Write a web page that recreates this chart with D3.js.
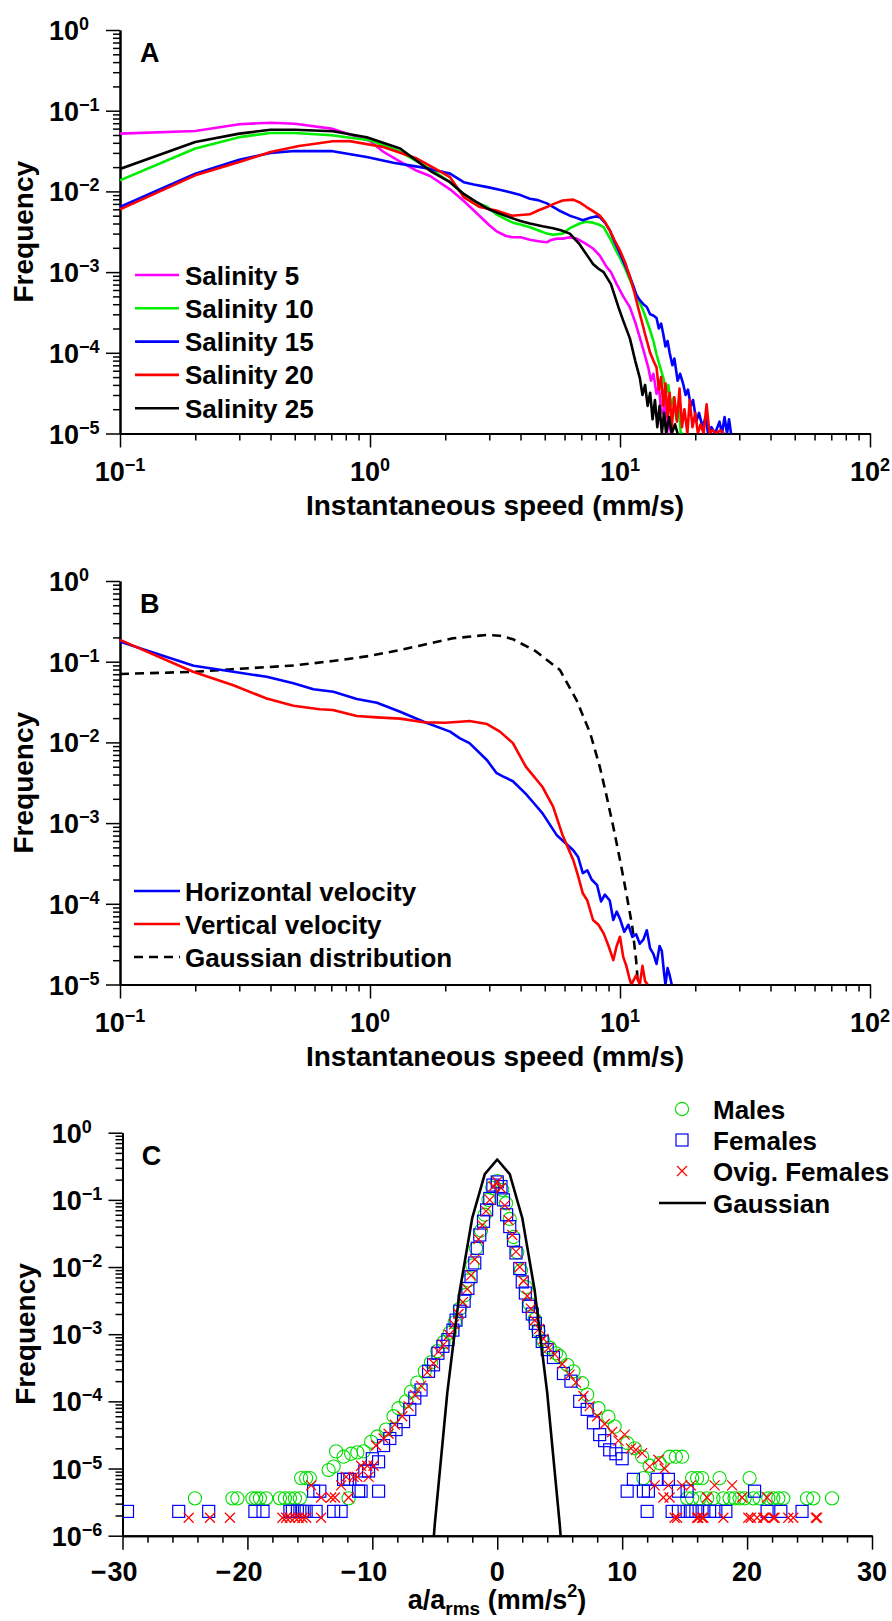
<!DOCTYPE html>
<html>
<head>
<meta charset="utf-8">
<script src="https://cdn.jsdelivr.net/npm/d3@7"></script>
<style>
body { margin: 0; background: #fff; }
svg text { font-family: "Liberation Sans", Arial, Helvetica, sans-serif; font-weight: bold; fill: #000; }
</style>
</head>
<body>
<svg id="chart" width="892" height="1621"></svg>
<script>
// ---- panel A: speed PDFs per salinity, [speed mm/s, frequency]
const salinityNames = ["Salinity 5", "Salinity 10", "Salinity 15", "Salinity 20", "Salinity 25"];
const salinityColors = ["#ff00ff", "#00ee00", "#0000ff", "#ff0000", "#000000"];

const sal5 = [[0.1,0.052],[0.2,0.056],[0.3,0.068],[0.4,0.071],[0.5,0.069],[0.7,0.060],[1.0,0.042],[1.13,0.031],[1.3,0.024],[1.54,0.018],[1.74,0.0155],[2.09,0.0106],[2.36,0.0077],[2.7,0.0052],[3.0,0.0038],[3.21,0.0032],[3.5,0.0028],[3.73,0.0027],[4.0,0.0027],[4.4,0.0025],[4.8,0.0024],[5.09,0.00234],[5.3,0.0025],[5.6,0.0026],[5.92,0.0026],[6.3,0.0027],[6.71,0.0026],[7.2,0.0023],[7.8,0.00196],[8.3,0.0016],[8.85,0.00115],[9.2,0.0010],[9.7,0.00071],[10.3,0.0005],[10.96,0.000366],[11.5,0.00024],[12.0,0.000155],[12.5,0.0001],[12.97,6.6e-5],[13.3,4.5e-5],[13.6,5.5e-5],[14.0,3.1e-5],[14.3,3.8e-5],[14.6,2.0e-5],[14.9,1.74e-5],[15.1,2.5e-5],[15.4,1.0e-5],[15.7,1.5e-5],[16.0,1.0e-5]];
const sal10 = [[0.1,0.0137],[0.2,0.034],[0.3,0.047],[0.4,0.053],[0.5,0.053],[0.7,0.0496],[1.0,0.043],[1.32,0.031],[1.74,0.019],[2.09,0.013],[2.37,0.0093],[2.6,0.0075],[2.95,0.0064],[3.2,0.0052],[3.5,0.0045],[3.73,0.0041],[4.0,0.0039],[4.36,0.0036],[4.7,0.0033],[5.1,0.003],[5.4,0.0029],[5.9,0.003],[6.3,0.0035],[6.9,0.004],[7.3,0.0042],[7.8,0.0041],[8.2,0.0039],[8.6,0.0036],[9.2,0.0025],[9.6,0.0019],[10.0,0.0015],[10.5,0.0011],[10.96,0.0008],[11.6,0.00053],[12.4,0.00033],[13.2,0.00019],[13.6,0.00014],[14.0,9.6e-5],[14.4,7e-5],[14.9,4.9e-5],[15.3,3.2e-5],[15.6,4e-5],[16.0,2.2e-5],[16.4,2.8e-5],[16.8,1.5e-5],[17.2,2.0e-5],[17.5,1.0e-5],[17.9,1.0e-5]];
const sal15 = [[0.1,0.0064],[0.2,0.0166],[0.3,0.0247],[0.4,0.030],[0.5,0.0316],[0.7,0.0316],[0.97,0.0267],[1.24,0.0227],[1.59,0.020],[1.74,0.019],[2.09,0.0166],[2.37,0.013],[2.6,0.0122],[2.95,0.0113],[3.3,0.0105],[3.6,0.0098],[4.0,0.009],[4.36,0.0081],[4.7,0.0078],[5.1,0.0071],[5.7,0.0058],[6.3,0.005],[6.7,0.0047],[7.1,0.0044],[7.6,0.0047],[8.0,0.0049],[8.3,0.0048],[8.7,0.0041],[9.1,0.0033],[9.5,0.0024],[10.0,0.0017],[10.5,0.0012],[10.96,0.00087],[11.3,0.00068],[11.6,0.00053],[12.0,0.00045],[12.4,0.0004],[12.8,0.00037],[13.2,0.0003],[13.6,0.00029],[14.0,0.00027],[14.3,0.0002],[14.6,0.00023],[14.9,0.00017],[15.2,0.00012],[15.5,0.00014],[15.8,0.0001],[16.2,7e-5],[16.5,8.5e-5],[16.7,6.6e-5],[17.0,4.5e-5],[17.4,5.5e-5],[17.9,4.1e-5],[18.3,3e-5],[18.7,3.5e-5],[19.2,2.2e-5],[19.6,2.6e-5],[20.2,1.4e-5],[20.7,1.8e-5],[21.4,1.2e-5],[22.0,1.6e-5],[22.5,1.0e-5],[23.2,1.2e-5],[24.0,1.0e-5],[25.0,1.4e-5],[25.6,1.0e-5],[26.2,1.6e-5],[26.8,1.0e-5],[27.3,1.5e-5],[27.8,1.0e-5]];
const sal20 = [[0.1,0.006],[0.2,0.0158],[0.3,0.0231],[0.4,0.0307],[0.52,0.0365],[0.71,0.0418],[0.83,0.042],[1.13,0.0355],[1.54,0.0255],[1.74,0.0207],[2.09,0.015],[2.37,0.0085],[2.75,0.0064],[3.2,0.0058],[3.7,0.005],[4.0,0.0051],[4.36,0.0052],[4.7,0.0058],[5.1,0.0064],[5.5,0.0071],[5.9,0.0077],[6.5,0.0079],[6.9,0.0073],[7.35,0.0064],[7.8,0.0057],[8.3,0.005],[8.7,0.0042],[9.1,0.0033],[9.5,0.0025],[10.0,0.00185],[10.5,0.0013],[10.96,0.00087],[11.4,0.00057],[11.8,0.00037],[12.2,0.00025],[12.6,0.00017],[13.2,0.0001],[13.6,8e-5],[14.0,6.6e-5],[14.3,3.5e-5],[14.6,5e-5],[14.9,2.2e-5],[15.2,4.2e-5],[15.5,1.6e-5],[15.8,3.2e-5],[16.1,1.2e-5],[16.5,2.8e-5],[16.9,1.4e-5],[17.3,3.6e-5],[17.7,1.2e-5],[18.1,2.0e-5],[18.6,1.0e-5],[19.0,2.6e-5],[19.5,1.2e-5],[20.0,1.8e-5],[20.5,1.0e-5],[21.0,1.3e-5],[21.6,1.0e-5],[22.2,2.3e-5],[22.8,1.0e-5],[23.5,1.1e-5],[24.3,1.0e-5],[25.2,1.1e-5],[26.0,1.0e-5]];
const sal25 = [[0.1,0.019],[0.2,0.041],[0.3,0.052],[0.4,0.058],[0.5,0.058],[0.71,0.0556],[0.97,0.047],[1.32,0.034],[1.74,0.018],[2.09,0.013],[2.37,0.0093],[2.65,0.0075],[2.95,0.0061],[3.3,0.0053],[3.6,0.0048],[4.0,0.0043],[4.36,0.004],[4.9,0.0037],[5.4,0.0035],[5.8,0.0033],[6.3,0.003],[6.9,0.0022],[7.4,0.0016],[7.8,0.00126],[8.2,0.0011],[8.6,0.001],[9.2,0.00071],[9.85,0.00037],[10.3,0.00025],[10.96,0.00015],[11.5,8e-5],[12.0,4.9e-5],[12.3,3.0e-5],[12.6,4e-5],[12.9,2.2e-5],[13.2,3.2e-5],[13.5,1.5e-5],[13.8,2.6e-5],[14.1,1.2e-5],[14.4,2.2e-5],[14.7,1.0e-5],[15.0,1.8e-5],[15.3,1.0e-5],[15.7,1.6e-5],[16.1,1.0e-5],[16.6,1.3e-5],[17.0,1.0e-5]];
const salinitySeries = [sal5, sal10, sal15, sal20, sal25];

// ---- panel B: horizontal / vertical velocity PDFs + gaussian reference
const horizVel = [[0.1,0.177],[0.197,0.089],[0.284,0.075],[0.386,0.065],[0.494,0.054],[0.594,0.0455],[0.714,0.0425],[0.886,0.0345],[1.066,0.031],[1.32,0.024],[1.64,0.018],[2.09,0.0136],[2.29,0.0112],[2.5,0.0098],[2.94,0.006],[3.2,0.0042],[3.4,0.0038],[3.73,0.0033],[4.2,0.0023],[4.5,0.0018],[4.9,0.00132],[5.6,0.0007],[6.0,0.00058],[6.5,0.00046],[6.8,0.00038],[7.1,0.00024],[7.4,0.00026],[7.7,0.0002],[8.1,0.00017],[8.4,0.000107],[8.7,0.00013],[9.1,0.00011],[9.4,6.3e-5],[9.7,8e-5],[10.0,6.5e-5],[10.4,4.5e-5],[10.8,5.5e-5],[11.2,3.9e-5],[11.6,4.2e-5],[12.0,3.2e-5],[12.4,3.6e-5],[12.8,4.7e-5],[13.2,2.8e-5],[13.6,2.4e-5],[14.0,1.8e-5],[14.4,3.0e-5],[14.7,2.6e-5],[15.0,1.4e-5],[15.2,1.0e-5],[15.5,1.6e-5],[15.8,1.3e-5],[16.1,1.0e-5]];
const vertVel = [[0.1,0.186],[0.196,0.075],[0.284,0.051],[0.386,0.035],[0.494,0.0285],[0.63,0.0257],[0.71,0.0252],[0.886,0.0212],[1.066,0.0204],[1.32,0.0197],[1.64,0.0178],[2.0,0.0175],[2.29,0.018],[2.5,0.0184],[2.94,0.0169],[3.31,0.0136],[3.73,0.0098],[4.2,0.005],[4.9,0.0028],[5.4,0.0016],[5.9,0.0007],[6.5,0.00035],[6.8,0.00022],[7.1,0.000135],[7.4,0.00011],[7.8,6.3e-5],[8.2,5.5e-5],[8.6,4.3e-5],[9.0,3e-5],[9.4,2e-5],[9.7,3e-5],[10.0,3.9e-5],[10.3,2.2e-5],[10.6,1.7e-5],[10.9,1.2e-5],[11.1,1.0e-5],[11.6,1.3e-5],[12.0,1.0e-5],[12.3,1.7e-5],[12.6,1.1e-5],[12.9,1.0e-5]];
const gaussSpeed = [[0.1,0.0704],[0.2,0.075],[0.28,0.0805],[0.5,0.09],[0.71,0.102],[1.0,0.118],[1.32,0.14],[1.58,0.158],[2.15,0.195],[2.94,0.215],[3.3,0.21],[3.73,0.19],[4.6,0.135],[5.75,0.079],[6.7,0.0335],[7.6,0.013],[8.3,0.005],[8.8,0.0023],[9.4,0.0009],[10.0,0.00035],[10.6,0.000135],[11.2,5.2e-5],[11.6,2e-5],[11.8,1e-5]];
const velNames = ["Horizontal velocity", "Vertical velocity", "Gaussian distribution"];

// ---- panel C: acceleration PDFs, [a/a_rms, frequency]
const males = [[0.0,0.19],[-0.4,0.151],[0.4,0.141],[-0.7,0.10],[0.7,0.089],[-1.0,0.060],[1.0,0.052],[-1.3,0.035],[1.3,0.028],[-1.7,0.019],[1.6,0.0166],[-2.0,0.0105],[1.9,0.0089],[-2.3,0.0063],[2.3,0.005],[-2.6,0.0038],[2.6,0.0028],[-3.0,0.0024],[3.0,0.00166],[-3.4,0.0015],[3.3,0.00112],[-3.8,0.00105],[3.7,0.00079],[-4.3,0.00076],[4.2,0.00063],[-4.8,0.00056],[4.7,0.00052],[-5.3,0.00038],[5.0,0.00047],[-5.8,0.00028],[5.6,0.00035],[-6.4,0.00019],[6.1,0.00028],[-6.9,0.00014],[6.8,0.000186],[-7.3,0.0001],[7.2,0.000126],[-7.9,7.9e-5],[8.1,7.9e-5],[-8.3,6.0e-5],[8.9,5.9e-5],[-8.9,3.8e-5],[9.4,4.2e-5],[-9.6,3.0e-5],[10.4,2.4e-5],[-10.1,2.5e-5],[11.0,2.0e-5],[-10.7,1.8e-5],[11.6,1.5e-5],[-11.2,1.74e-5],[12.2,1.1e-5],[-11.7,1.66e-5],[13.0,1.2e-5],[-12.3,1.5e-5],[13.8,1.5e-5],[-12.9,1.8e-5],[14.3,1.5e-5],[-13.1,1.07e-5],[14.8,1.5e-5],[-13.5,9.5e-6],
  [-15.0,7.2e-6],[-15.3,7.2e-6],[-15.7,7.2e-6],[11.7,7.2e-6],[15.6,7.2e-6],[16.0,7.2e-6],[16.4,7.2e-6],[17.8,7.2e-6],[20.2,7.2e-6],
  [-24.2,3.6e-6],[-21.2,3.6e-6],[-20.8,3.6e-6],[-19.6,3.6e-6],[-19.3,3.6e-6],[-19.0,3.6e-6],[-18.5,3.6e-6],[-17.4,3.6e-6],[-17.0,3.6e-6],[-16.6,3.6e-6],[-16.2,3.6e-6],[-15.8,3.6e-6],[-11.9,3.6e-6],
  [15.2,3.6e-6],[15.6,3.6e-6],[16.2,3.6e-6],[16.8,3.6e-6],[17.3,3.6e-6],[18.1,3.6e-6],[18.6,3.6e-6],[19.0,3.6e-6],[19.4,3.6e-6],[19.8,3.6e-6],[20.5,3.6e-6],[21.0,3.6e-6],[21.7,3.6e-6],[22.1,3.6e-6],[22.5,3.6e-6],[22.9,3.6e-6],[24.8,3.6e-6],[25.3,3.6e-6],[26.8,3.6e-6]];
const females = [[0.0,0.185],[-0.35,0.166],[0.3,0.158],[-0.6,0.105],[0.5,0.1],[-0.85,0.071],[0.75,0.06],[-1.1,0.048],[1.0,0.04],[-1.4,0.03],[1.3,0.025],[-1.6,0.019],[1.5,0.0162],[-1.8,0.0115],[1.8,0.0095],[-2.1,0.0072],[2.0,0.006],[-2.35,0.0048],[2.25,0.0041],[-2.65,0.0031],[2.5,0.0026],[-3.0,0.0022],[2.8,0.002],[-3.3,0.00162],[3.05,0.00145],[-3.55,0.00115],[3.3,0.0011],[-3.95,0.00083],[3.6,0.00078],[-4.35,0.00066],[4.0,0.00059],[-4.75,0.00052],[4.5,0.00045],[-5.1,0.00035],[5.3,0.00026],[-5.5,0.00028],[5.9,0.0002],[-6.1,0.000148],[6.6,0.0001],[-6.6,0.000112],[7.2,7.6e-5],[-7.0,7.6e-5],[7.7,4.8e-5],[-7.5,5.0e-5],[8.2,3.2e-5],[-8.1,3.8e-5],[8.6,2.6e-5],[-8.6,2.8e-5],[9.0,1.9e-5],[-9.1,2.2e-5],[9.5,1.66e-5],[-9.5,1.26e-5],[10.0,1.4e-5],[-10.0,1.4e-5],[-10.3,9.2e-6],[-10.6,9.2e-6],
  [-12.3,6.9e-6],[-11.8,6.9e-6],[-12.0,6.9e-6],[10.9,6.9e-6],[12.8,6.9e-6],[13.7,6.9e-6],
  [-14.7,4.6e-6],[-14.2,4.6e-6],[-11.1,4.6e-6],[-10.9,4.6e-6],[-9.5,4.6e-6],[10.4,4.6e-6],[11.7,4.6e-6],[12.1,4.6e-6],[14.5,4.6e-6],[15.2,4.6e-6],[20.6,4.6e-6],
  [-29.6,2.3e-6],[-25.5,2.3e-6],[-23.1,2.3e-6],[-19.4,2.3e-6],[-18.75,2.3e-6],[-16.6,2.3e-6],[-16.4,2.3e-6],[-16.0,2.3e-6],[-15.8,2.3e-6],[-15.6,2.3e-6],[-15.3,2.3e-6],[-14.5,2.3e-6],[-13.1,2.3e-6],[-12.5,2.3e-6],
  [12.0,2.3e-6],[14.0,2.3e-6],[14.5,2.3e-6],[15.2,2.3e-6],[15.6,2.3e-6],[15.9,2.3e-6],[16.4,2.3e-6],[17.0,2.3e-6],[17.5,2.3e-6],[18.3,2.3e-6],[21.6,2.3e-6],[22.7,2.3e-6],[24.4,2.3e-6]];
const ovigFemales = [[0.0,0.186],[-0.3,0.158],[0.3,0.150],[-0.6,0.1],[0.6,0.083],[-0.9,0.068],[0.9,0.05],[-1.2,0.042],[1.2,0.03],[-1.5,0.026],[1.5,0.017],[-1.8,0.013],[1.8,0.01],[-2.1,0.0075],[2.1,0.0062],[-2.4,0.0047],[2.4,0.0037],[-2.75,0.003],[2.7,0.0024],[-3.1,0.002],[3.0,0.0016],[-3.45,0.0014],[3.35,0.0012],[-3.85,0.00098],[3.7,0.00085],[-4.3,0.0007],[4.1,0.00062],[-4.7,0.00055],[4.6,0.0005],[-5.1,0.00037],[5.2,0.00036],[-5.6,0.00027],[5.8,0.00025],[-6.1,0.00017],[6.3,0.00019],[-6.6,0.000125],[6.9,0.00012],[-7.1,8.5e-5],[7.4,8.5e-5],[-7.6,6e-5],[8.0,6e-5],[-8.2,4.5e-5],[8.6,4.6e-5],[-8.7,3.3e-5],[9.2,3.5e-5],[-9.1,2.8e-5],[9.7,2.6e-5],[-9.7,2.2e-5],[10.2,3.2e-5],[10.7,2.0e-5],[11.1,1.9e-5],[11.6,1.7e-5],[12.2,1.07e-5],[12.9,1.35e-5],[13.4,1.0e-5],
  [-9.9,1.1e-5],[-10.4,1.1e-5],[-10.9,1.1e-5],[-10.3,7.5e-6],[-11.2,7.5e-6],[-11.5,7.5e-6],[-12.1,7.5e-6],
  [-12.5,5.6e-6],[-14.9,5.6e-6],[12.6,5.6e-6],[13.7,5.6e-6],[14.8,5.6e-6],[15.5,5.6e-6],[17.4,5.6e-6],[18.8,5.6e-6],
  [-14.1,3.7e-6],[-13.3,3.7e-6],[-13.0,3.7e-6],[-11.9,3.7e-6],[13.3,3.7e-6],[13.8,3.7e-6],[16.8,3.7e-6],[19.6,3.7e-6],[21.6,3.7e-6],
  [-24.7,1.85e-6],[-23.0,1.85e-6],[-21.4,1.85e-6],[-17.2,1.85e-6],[-16.9,1.85e-6],[-16.6,1.85e-6],[-16.2,1.85e-6],[-15.9,1.85e-6],[-15.6,1.85e-6],[-15.3,1.85e-6],[-14.1,1.85e-6],
  [14.2,1.85e-6],[14.4,1.85e-6],[16.0,1.85e-6],[16.1,1.85e-6],[16.4,1.85e-6],[16.5,1.85e-6],[18.1,1.85e-6],[20.1,1.85e-6],[20.3,1.85e-6],[20.8,1.85e-6],[21.3,1.85e-6],[21.4,1.85e-6],[22.1,1.85e-6],[22.2,1.85e-6],[23.3,1.85e-6],[23.7,1.85e-6],[25.5,1.85e-6],[25.6,1.85e-6]];
const gaussAcc = [[-6,6.08e-9],[-5,1.49e-6],[-4,1.34e-4],[-3,4.43e-3],[-2,5.40e-2],[-1,0.242],[0,0.399],[1,0.242],[2,5.40e-2],[3,4.43e-3],[4,1.34e-4],[5,1.49e-6],[6,6.08e-9]];
const accNames = ["Males", "Females", "Ovig. Females", "Gaussian"];
const accTicks = [-30, -20, -10, 0, 10, 20, 30];

const svg = d3.select("#chart");

function decadeTicks(lo, hi) {
    const major = [], minor = [];
    for (let e = lo; e <= hi; e++) {
        major.push(Math.pow(10, e));
        if (e < hi) for (let k = 2; k <= 9; k++) minor.push(k * Math.pow(10, e));
    }
    return {major, minor};
}

function styleAxis(g) {
    g.select(".domain").attr("stroke", "#000").attr("stroke-width", 2);
    g.selectAll(".tick line").attr("stroke", "#000").attr("stroke-width", 1.5);
    g.selectAll(".tick text").remove();
}

function powLabel(g, x, y, exp, anchor) {
    const t = g.append("text").attr("x", x).attr("y", y)
        .attr("text-anchor", anchor).attr("font-size", 27);
    t.append("tspan").text("10");
    t.append("tspan").attr("font-size", 18).attr("dy", -10)
        .text(exp < 0 ? "\u2212" + (-exp) : String(exp));
}

function yLogAxis(g, y, x0, lo, labelX) {
    const t = decadeTicks(lo, 0);
    g.append("g").attr("transform", `translate(${x0},0)`)
        .call(d3.axisLeft(y).tickValues(t.minor).tickSize(7).tickSizeOuter(0)).call(styleAxis);
    g.append("g").attr("transform", `translate(${x0},0)`)
        .call(d3.axisLeft(y).tickValues(t.major).tickSize(14).tickSizeOuter(0)).call(styleAxis);
    t.major.forEach(v => powLabel(g, labelX, y(v) + 10, Math.round(Math.log10(v)), "start"));
}

function yTitle(g, x, cy) {
    g.append("text").attr("transform", `translate(${x},${cy}) rotate(-90)`)
        .attr("text-anchor", "middle").attr("font-size", 28).text("Frequency");
}

function clipRect(id, x, y) {
    svg.append("clipPath").attr("id", id).append("rect")
        .attr("x", x.range()[0]).attr("y", y.range()[1])
        .attr("width", x.range()[1] - x.range()[0])
        .attr("height", y.range()[0] - y.range()[1]);
}

// ---------- speed panels (A, B) ----------
function speedPanel(top, letter) {
    const x = d3.scaleLog().domain([0.1, 100]).range([120, 870]);
    const y = d3.scaleLog().domain([1e-5, 1]).range([top + 403.5, top]);
    const g = svg.append("g");
    const bottom = y.range()[0];
    const t = decadeTicks(-1, 2);
    g.append("g").attr("transform", `translate(0,${bottom})`)
        .call(d3.axisBottom(x).tickValues(t.minor).tickSize(7).tickSizeOuter(0)).call(styleAxis);
    g.append("g").attr("transform", `translate(0,${bottom})`)
        .call(d3.axisBottom(x).tickValues(t.major).tickSize(14).tickSizeOuter(0)).call(styleAxis);
    t.major.forEach(v => powLabel(g, x(v), bottom + 47, Math.round(Math.log10(v)), "middle"));
    yLogAxis(g, y, 120, -5, 49);
    yTitle(g, 33, (top + bottom) / 2);
    g.append("text").attr("x", 495).attr("y", bottom + 81).attr("text-anchor", "middle")
        .attr("font-size", 28).text("Instantaneous speed (mm/s)");
    g.append("text").attr("x", 140).attr("y", top + 32).attr("font-size", 27).text(letter);
    return {g, x, y};
}

// A
const pA = speedPanel(30, "A");
clipRect("clipA", pA.x, pA.y);
const lineA = d3.line().x(d => pA.x(d[0])).y(d => pA.y(d[1]));
const gA = pA.g.append("g").attr("clip-path", "url(#clipA)");
salinitySeries.forEach((s, i) => {
    gA.append("path").datum(s).attr("d", lineA).attr("fill", "none")
        .attr("stroke", salinityColors[i]).attr("stroke-width", 2.6).attr("stroke-linejoin", "round");
});
salinityNames.forEach((n, i) => {
    const ly = 275 + i * 33.3;
    pA.g.append("line").attr("x1", 135).attr("x2", 179).attr("y1", ly).attr("y2", ly)
        .attr("stroke", salinityColors[i]).attr("stroke-width", 2.6);
    pA.g.append("text").attr("x", 185).attr("y", ly + 9.5).attr("font-size", 26).text(n);
});

// B
const pB = speedPanel(581, "B");
clipRect("clipB", pB.x, pB.y);
const lineB = d3.line().x(d => pB.x(d[0])).y(d => pB.y(d[1]));
const gB = pB.g.append("g").attr("clip-path", "url(#clipB)");
const velStyles = [
    {data: horizVel, color: "#0000ff", dash: null},
    {data: vertVel, color: "#ff0000", dash: null},
    {data: gaussSpeed, color: "#000000", dash: "9,6"}
];
[2, 0, 1].forEach(i => {
    const s = velStyles[i];
    gB.append("path").datum(s.data).attr("d", lineB).attr("fill", "none")
        .attr("stroke", s.color).attr("stroke-width", 2.6).attr("stroke-dasharray", s.dash)
        .attr("stroke-linejoin", "round");
});
velNames.forEach((n, i) => {
    const ly = 891 + i * 33;
    pB.g.append("line").attr("x1", 134).attr("x2", 180).attr("y1", ly).attr("y2", ly)
        .attr("stroke", velStyles[i].color).attr("stroke-width", 2.6)
        .attr("stroke-dasharray", velStyles[i].dash);
    pB.g.append("text").attr("x", 185).attr("y", ly + 9.5).attr("font-size", 26).text(n);
});

// ---------- C ----------
const xC = d3.scaleLinear().domain([-30, 30]).range([122.5, 872]);
const yC = d3.scaleLog().domain([1e-6, 1]).range([1535.7, 1132.7]);
const gC = svg.append("g");
const minorC = d3.range(-30, 31, 2).filter(v => v % 10 !== 0);
gC.append("g").attr("transform", "translate(0,1535.7)")
    .call(d3.axisBottom(xC).tickValues(minorC).tickSize(7).tickSizeOuter(0)).call(styleAxis);
gC.append("g").attr("transform", "translate(0,1535.7)")
    .call(d3.axisBottom(xC).tickValues(accTicks).tickSize(14).tickSizeOuter(0)).call(styleAxis);
accTicks.forEach(v => {
    const t = gC.append("text").attr("x", xC(v)).attr("y", 1581).attr("text-anchor", "middle")
        .attr("font-size", 27).text(Math.abs(v));
    if (v < 0) {
        const w = t.node().getComputedTextLength();
        gC.append("text").attr("x", xC(v) - w / 2 - 1).attr("y", 1581).attr("text-anchor", "end")
            .attr("font-size", 27).text("\u2212");
    }
});
yLogAxis(gC, yC, 122.5, -6, 51.7);
yTitle(gC, 35, 1334);
gC.append("text").attr("x", 141.7).attr("y", 1165).attr("font-size", 27).text("C");
{
    const t = gC.append("text").attr("x", 497).attr("y", 1609).attr("text-anchor", "middle").attr("font-size", 27);
    t.append("tspan").text("a/a");
    t.append("tspan").attr("font-size", 19).attr("dy", 6).text("rms");
    t.append("tspan").attr("dy", -6).text(" (mm/s");
    t.append("tspan").attr("font-size", 18).attr("dy", -12).text("2");
    t.append("tspan").attr("dy", 12).text(")");
}
clipRect("clipC", xC, yC);
const plotC = gC.append("g").attr("clip-path", "url(#clipC)");

function drawCircles(g, data) {
    g.selectAll(null).data(data).join("circle")
        .attr("cx", d => xC(d[0])).attr("cy", d => yC(d[1])).attr("r", 6.6)
        .attr("fill", "none").attr("stroke", "#00dd00").attr("stroke-width", 1.1);
}
function drawSquares(g, data) {
    g.selectAll(null).data(data).join("rect")
        .attr("x", d => xC(d[0]) - 6).attr("y", d => yC(d[1]) - 6).attr("width", 12).attr("height", 12)
        .attr("fill", "none").attr("stroke", "#0000ff").attr("stroke-width", 1.2);
}
function drawCrosses(g, data) {
    g.selectAll(null).data(data).join("path")
        .attr("d", d => {
            const cx = xC(d[0]), cy = yC(d[1]);
            return `M${cx - 5},${cy - 5}L${cx + 5},${cy + 5}M${cx - 5},${cy + 5}L${cx + 5},${cy - 5}`;
        })
        .attr("fill", "none").attr("stroke", "#ff0000").attr("stroke-width", 1.2);
}
drawCircles(plotC.append("g"), males);
drawSquares(plotC.append("g"), females);
drawCrosses(plotC.append("g"), ovigFemales);
plotC.append("path").datum(gaussAcc)
    .attr("d", d3.line().x(d => xC(d[0])).y(d => yC(d[1])))
    .attr("fill", "none").attr("stroke", "#000").attr("stroke-width", 2.6).attr("stroke-linejoin", "round");

// legend C (sits above the top of the axis)
const legC = gC.append("g");
const legRows = [1109, 1140, 1171, 1203];
const legX = 682;
legC.append("circle").attr("cx", legX).attr("cy", legRows[0]).attr("r", 6.6)
    .attr("fill", "none").attr("stroke", "#00dd00").attr("stroke-width", 1.1);
legC.append("rect").attr("x", legX - 6).attr("y", legRows[1] - 6).attr("width", 12).attr("height", 12)
    .attr("fill", "none").attr("stroke", "#0000ff").attr("stroke-width", 1.2);
legC.append("path").attr("d", `M${legX - 5},${legRows[2] - 5}L${legX + 5},${legRows[2] + 5}M${legX - 5},${legRows[2] + 5}L${legX + 5},${legRows[2] - 5}`)
    .attr("stroke", "#ff0000").attr("stroke-width", 1.2);
legC.append("line").attr("x1", 659).attr("x2", 706).attr("y1", legRows[3]).attr("y2", legRows[3])
    .attr("stroke", "#000").attr("stroke-width", 2.6);
accNames.forEach((n, i) => {
    legC.append("text").attr("x", 713).attr("y", legRows[i] + 9.5).attr("font-size", 26).text(n);
});
</script>
</body>
</html>
